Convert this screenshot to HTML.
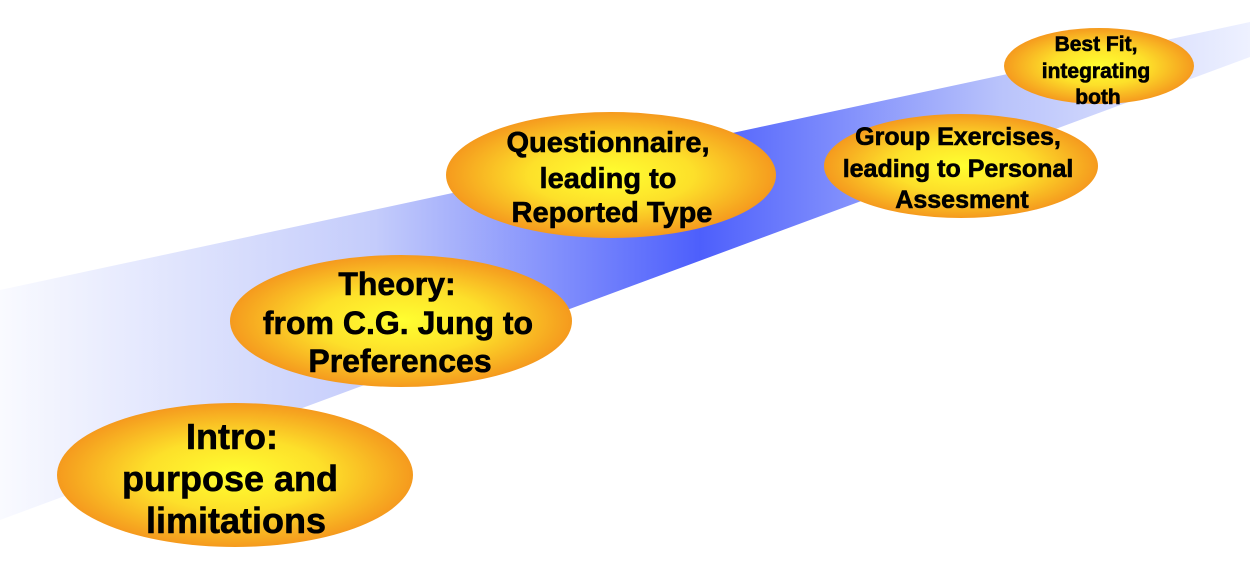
<!DOCTYPE html>
<html><head><meta charset="utf-8"><style>
html,body{margin:0;padding:0;background:#fff;}
svg{display:block}
text{font-family:"Liberation Sans","DejaVu Sans",sans-serif;font-weight:bold;fill:#000;stroke:#000;stroke-width:0.6;text-anchor:middle}
</style></head><body>
<svg width="1250" height="572" viewBox="0 0 1250 572" xmlns="http://www.w3.org/2000/svg">
<defs>
<linearGradient id="band" x1="0" y1="0" x2="1250" y2="0" gradientUnits="userSpaceOnUse">
<stop offset="0" stop-color="#f9faff"/>
<stop offset="0.3" stop-color="#c4ccfb"/>
<stop offset="0.56" stop-color="#4d5ffc"/>
<stop offset="0.8" stop-color="#b9c3fb"/>
<stop offset="1" stop-color="#eef1ff"/>
</linearGradient>
<radialGradient id="egg" cx="0.5" cy="0.5" r="0.5">
<stop offset="0" stop-color="#ffff30"/>
<stop offset="0.5" stop-color="#fde02a"/>
<stop offset="1" stop-color="#f59a1e"/>
</radialGradient>
</defs>
<polygon points="0,290 1250,22 1250,57 0,520" fill="url(#band)"/>
<ellipse cx="235" cy="475" rx="178" ry="72" fill="url(#egg)"/>
<ellipse cx="401" cy="321" rx="171" ry="66" fill="url(#egg)"/>
<ellipse cx="611" cy="175" rx="165" ry="63" fill="url(#egg)"/>
<ellipse cx="961" cy="166" rx="137" ry="52" fill="url(#egg)"/>
<ellipse cx="1099" cy="66" rx="95" ry="38" fill="url(#egg)"/>
<g font-size="36">
<text x="232" y="449">Intro:</text>
<text x="230" y="491">purpose and</text>
<text x="236" y="533">limitations</text>
</g>
<g font-size="32">
<text x="397" y="295">Theory:</text>
<text x="398" y="334">from C.G. Jung to</text>
<text x="400" y="372">Preferences</text>
</g>
<g font-size="29">
<text x="608" y="152">Questionnaire,</text>
<text x="608" y="188">leading to</text>
<text x="612" y="222">Reported Type</text>
</g>
<g font-size="25">
<text x="958" y="145">Group Exercises,</text>
<text x="958" y="177">leading to Personal</text>
<text x="962" y="208">Assesment</text>
</g>
<g font-size="21">
<text x="1096" y="51">Best Fit,</text>
<text x="1096" y="78">integrating</text>
<text x="1098" y="104">both</text>
</g>
</svg>
</body></html>
